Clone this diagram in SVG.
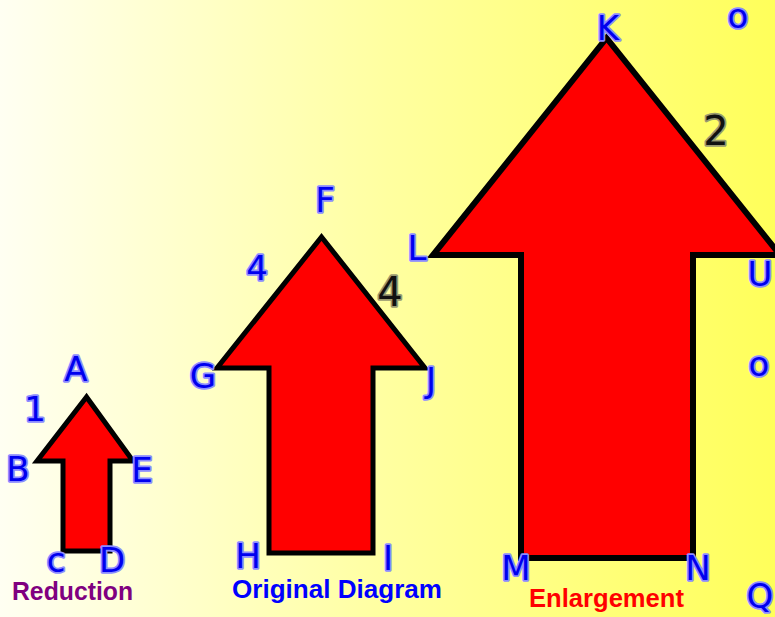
<svg xmlns="http://www.w3.org/2000/svg" width="775" height="617" viewBox="0 0 775 617">
<defs>
<linearGradient id="bg" x1="0" y1="0" x2="1" y2="0">
<stop offset="0" stop-color="#fffff2"/>
<stop offset="0.5" stop-color="#ffffa0"/>
<stop offset="1" stop-color="#ffff5a"/>
</linearGradient>
<style>
.arrow{fill:#ff0000;stroke:#000;stroke-linejoin:miter}
.lbl{font-family:"DejaVu Sans","Liberation Sans",sans-serif;font-size:34px;fill:#0000ee;stroke:#8c8cff;stroke-width:3.5;paint-order:stroke;stroke-linejoin:round;text-anchor:middle}
.num{font-family:"DejaVu Sans","Liberation Sans",sans-serif;font-size:40px;fill:#111;stroke:#9a9a70;stroke-width:3.5;paint-order:stroke;stroke-linejoin:round;text-anchor:middle}
.cap{font-family:"Liberation Sans",sans-serif;font-weight:bold;font-size:25px}
</style>
</defs>
<rect width="775" height="617" fill="url(#bg)"/>
<g id="reduction">
<polygon class="arrow" stroke-width="5" points="86.5,397 37,461 63,461 63,551 110,551 110,461 133,461"/>
<text class="lbl" x="76" y="381" font-size="34">A</text>
<text class="lbl" x="35" y="421" font-size="34">1</text>
<text class="lbl" x="18" y="481" font-size="30">B</text>
<text class="lbl" x="142" y="482" font-size="30">E</text>
<text class="lbl" x="56" y="572" font-size="28">c</text>
<text class="lbl" x="112" y="572" font-size="24">D</text>
<text class="cap" x="12" y="600" fill="#800080" textLength="121" lengthAdjust="spacingAndGlyphs">Reduction</text>
</g>
<g id="original">
<polygon class="arrow" stroke-width="5" points="321.5,237 217,368 269,368 269,553 373,553 373,368 425,368"/>
<text class="lbl" x="325" y="212" font-size="42">F</text>
<text class="lbl" x="257" y="280" font-size="44">4</text>
<text class="num" x="390" y="306" font-size="46">4</text>
<text class="lbl" x="203" y="388" font-size="40">G</text>
<text class="lbl" x="431" y="392" font-size="40">J</text>
<text class="lbl" x="248" y="568" font-size="40">H</text>
<text class="lbl" x="388" y="570" font-size="40">I</text>
<text class="cap" x="232" y="598" fill="#0000ff" textLength="210" lengthAdjust="spacingAndGlyphs">Original Diagram</text>
</g>
<g id="enlargement">
<polygon class="arrow" stroke-width="6" points="606.5,38 433,255 521,255 521,558 693,558 693,255 780,255"/>
<text class="lbl" x="608" y="40" font-size="36">K</text>
<text class="lbl" x="417" y="260" font-size="36">L</text>
<text class="num" x="716" y="145" font-size="52">2</text>
<text class="lbl" x="516" y="580" font-size="42">M</text>
<text class="lbl" x="698" y="580" font-size="42">N</text>
<text class="lbl" x="760" y="286" font-size="24">U</text>
<text class="lbl" x="738" y="28" font-size="20">o</text>
<text class="lbl" x="759" y="376" font-size="24">o</text>
<text class="lbl" x="760" y="608" font-size="20">Q</text>
<text class="cap" x="529" y="607" fill="#ff0000" textLength="155" lengthAdjust="spacingAndGlyphs">Enlargement</text>
</g>
<g id="connectors"/>
</svg>
